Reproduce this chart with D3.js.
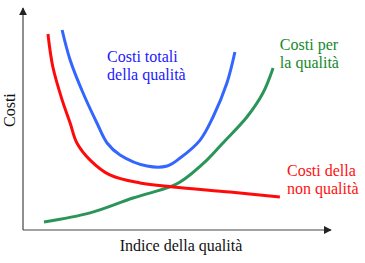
<!DOCTYPE html>
<html>
<head>
<meta charset="utf-8">
<script src="https://cdn.jsdelivr.net/npm/d3@7"></script>
</head>
<body style="margin:0">
<div id="container"></div>
<script>
/* CONSTANTS AND GLOBALS */
const width = 365;
const height = 263;
const margin = { top: 8, right: 34, bottom: 33, left: 23 };

/* DATA (quality index 0-100, cost 0-100) */
const nonQualityX = [8.1, 9.7, 12.7, 15.3, 17.5, 21.8, 28.2, 38.0, 48.7, 67.2, 83.4];
const nonQualityY = [88.3, 73.4, 58.6, 48.2, 39.2, 31.5, 24.8, 21.2, 19.4, 17.1, 14.9];

const totalX = [12.7, 15.3, 19.5, 24.0, 27.3, 31.5, 40.3, 46.8, 51.0, 57.5, 61.7, 66.2, 68.8];
const totalY = [90.1, 76.6, 61.7, 48.2, 39.2, 33.8, 28.8, 28.8, 32.4, 40.5, 50.9, 66.2, 80.2];

const qualityX = [6.8, 21.8, 35.7, 47.7, 51.0, 59.7, 64.9, 72.7, 77.9, 81.2];
const qualityY = [3.6, 7.7, 14.4, 19.4, 21.6, 31.5, 39.2, 50.9, 61.7, 73.0];

const seriesNames = ["Costi totali|della qualità", "Costi per|la qualità", "Costi della|non qualità"];
const xLabel = "Indice della qualità";
const yLabel = "Costi";

const svg = d3.select("#container")
  .append("svg")
  .attr("width", width)
  .attr("height", height)
  .attr("font-family", "Liberation Serif")
  .attr("font-size", 16);

/* SCALES */
const xScale = d3.scaleLinear()
  .domain([0, 100])
  .range([margin.left, width - margin.right]);

const yScale = d3.scaleLinear()
  .domain([0, 100])
  .range([height - margin.bottom, margin.top]);

// arrow heads
svg.append("defs").append("marker")
  .attr("id", "arrow")
  .attr("viewBox", "0 0 10 10")
  .attr("refX", 9)
  .attr("refY", 5)
  .attr("markerWidth", 8)
  .attr("markerHeight", 8)
  .attr("markerUnits", "userSpaceOnUse")
  .attr("orient", "auto")
  .append("path")
  .attr("d", "M0,0 L10,5 L0,10 z")
  .attr("fill", "#222");

// axes
svg.append("line")
  .attr("x1", xScale(0)).attr("y1", yScale(0))
  .attr("x2", xScale(100)).attr("y2", yScale(0))
  .attr("stroke", "#444").attr("stroke-width", 1.2)
  .attr("marker-end", "url(#arrow)");

svg.append("line")
  .attr("x1", xScale(0)).attr("y1", yScale(0))
  .attr("x2", xScale(0)).attr("y2", yScale(100))
  .attr("stroke", "#444").attr("stroke-width", 1.2)
  .attr("marker-end", "url(#arrow)");

/* CURVES */
const line = d3.line()
  .x(d => xScale(d[0]))
  .y(d => yScale(d[1]))
  .curve(d3.curveCatmullRom.alpha(0.5));

const series = [
  { x: totalX, y: totalY, color: "#3366ff" },
  { x: qualityX, y: qualityY, color: "#2b9559" },
  { x: nonQualityX, y: nonQualityY, color: "#ff0a0a" }
];

svg.selectAll(".curve")
  .data(series)
  .join("path")
  .attr("class", "curve")
  .attr("d", s => line(d3.zip(s.x, s.y)))
  .attr("fill", "none")
  .attr("stroke", s => s.color)
  .attr("stroke-width", 3);

/* LABELS */
const labelPos = [
  { x: 27.3, y: 75.5, color: "#1a1aff" },
  { x: 83.4, y: 81, color: "#15892a" },
  { x: 85.7, y: 24.5, color: "#ff1010" }
];

seriesNames.forEach((name, i) => {
  const t = svg.append("text")
    .attr("x", xScale(labelPos[i].x))
    .attr("y", yScale(labelPos[i].y))
    .attr("fill", labelPos[i].color);
  name.split("|").forEach((part, j) => {
    t.append("tspan")
      .attr("x", xScale(labelPos[i].x))
      .attr("dy", j === 0 ? 0 : 18)
      .text(part);
  });
});

svg.append("text")
  .attr("x", (xScale(0) + xScale(100)) / 2 + 4)
  .attr("y", height - 12)
  .attr("text-anchor", "middle")
  .attr("fill", "#111")
  .text(xLabel);

svg.append("text")
  .attr("transform", `translate(15, ${yScale(54)}) rotate(-90)`)
  .attr("text-anchor", "middle")
  .attr("fill", "#111")
  .text(yLabel);
</script>
</body>
</html>
